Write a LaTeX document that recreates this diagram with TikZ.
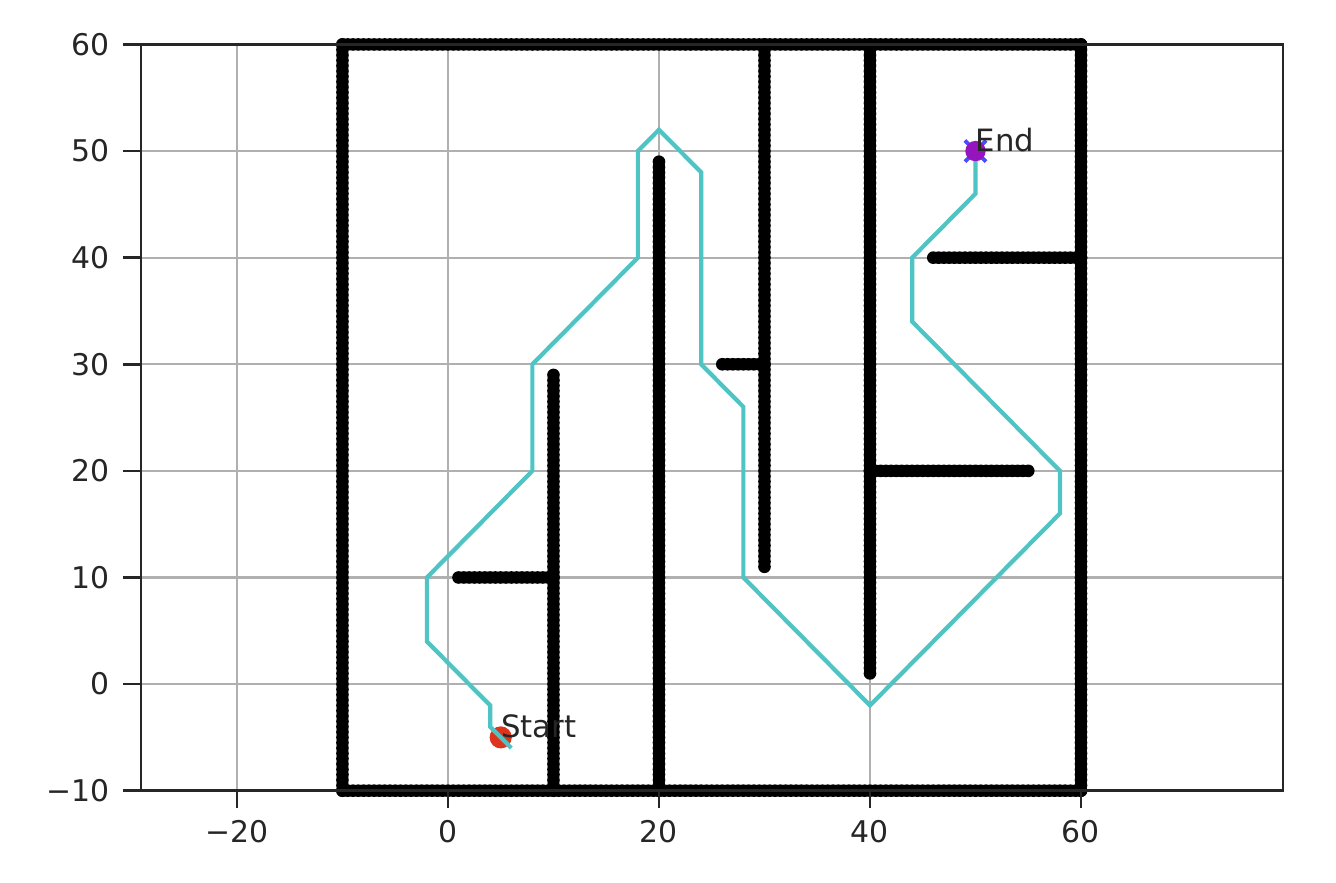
\documentclass[tikz,border=0pt]{standalone}
\usepackage{fontspec}
\setmainfont{DejaVu Sans}
\definecolor{pathcol}{RGB}{78,196,196}
\definecolor{gridcol}{RGB}{176,176,176}
\definecolor{startcol}{RGB}{222,52,30}
\definecolor{endcol}{RGB}{150,20,190}
\definecolor{txtcol}{RGB}{38,38,38}
\begin{document}
\begin{tikzpicture}[x=0.211cm,y=0.2132cm,
  gridline/.style={draw=gridcol,line width=1.2pt},
  spine/.style={draw=txtcol,line width=1.5pt},
  tickmark/.style={draw=txtcol,line width=1.5pt},
  ticklbl/.style={text=txtcol,font=\fontsize{17}{20}\selectfont,inner sep=0pt},
  obst/.style={fill=black},
  route/.style={draw=pathcol,line width=2.4pt,line join=miter},
  lbl/.style={text=txtcol,font=\fontsize{17.5}{20}\selectfont,inner sep=0pt,anchor=base west}]
\useasboundingbox (-42.46,-18.57) rectangle (84.17,64.17);
\fill[white] (-42.46,-18.57) rectangle (84.17,64.17);
\def\dr{3.6pt}
% grid
\foreach \gx in {-20,0,20,40,60} \draw[gridline] (\gx,-10) -- (\gx,60);
\foreach \gy in {-10,0,...,60} \draw[gridline] (-29.1,\gy) -- (79.15,\gy);
% obstacles
\foreach \i in {-10,-9.5,...,60} {
  \fill[obst] (\i,-10) circle[radius=\dr];
  \fill[obst] (\i,60) circle[radius=\dr];
  \fill[obst] (-10,\i) circle[radius=\dr];
  \fill[obst] (60,\i) circle[radius=\dr];
}
\foreach \i in {-10,-9.5,...,29} \fill[obst] (10,\i) circle[radius=\dr];
\foreach \i in {-10,-9.5,...,49} \fill[obst] (20,\i) circle[radius=\dr];
\foreach \i in {11,11.5,...,60} \fill[obst] (30,\i) circle[radius=\dr];
\foreach \i in {1,1.5,...,60} \fill[obst] (40,\i) circle[radius=\dr];
\foreach \i in {1,1.5,...,10} \fill[obst] (\i,10) circle[radius=\dr];
\foreach \i in {26,26.5,...,30} \fill[obst] (\i,30) circle[radius=\dr];
\foreach \i in {40,40.5,...,55} \fill[obst] (\i,20) circle[radius=\dr];
\foreach \i in {46,46.5,...,60} \fill[obst] (\i,40) circle[radius=\dr];
% start marker
\coordinate (s) at (5,-5);
\fill[startcol] (s) circle[radius=6.3pt];
% path
\draw[route] (50,50) -- (50,46) -- (44,40) -- (44,34) -- (58,20) -- (58,16)
  -- (40,-2) -- (28,10) -- (28,26) -- (24,30) -- (24,48) -- (20,52) -- (18,50)
  -- (18,40) -- (8,30) -- (8,20) -- (-2,10) -- (-2,4) -- (4,-2) -- (4,-4) -- (6,-6);
% end marker
\coordinate (g) at (50,50);
\draw[blue!70,line width=2.2pt] ([shift={(-6pt,-6pt)}]g) -- ([shift={(6pt,6pt)}]g)
  ([shift={(-6pt,6pt)}]g) -- ([shift={(6pt,-6pt)}]g);
\fill[endcol] (g) circle[radius=5.8pt];
% labels
\node[lbl] (startlbl) at (5,-5) {Start};
\node[lbl] (endlbl) at (50,50) {End};
% spines
\draw[spine] (-29.1,-10) rectangle (79.15,60);
% ticks and labels
\foreach \gx/\t in {-20/−20,0/0,20/20,40/40,60/60} {
  \draw[tickmark] (\gx,-10) -- ++(0,-10pt);
  \node[ticklbl] (xl\gx) at (\gx,-13.85) {\t};
}
\foreach \gy/\t in {-10/−10,0/0,10/10,20/20,30/30,40/40,50/50,60/60} {
  \draw[tickmark] (-29.1,\gy) -- ++(-10pt,0);
  \node[ticklbl,anchor=east] (yl\gy) at (-32,\gy) {\t};
}
\end{tikzpicture}
\end{document}
